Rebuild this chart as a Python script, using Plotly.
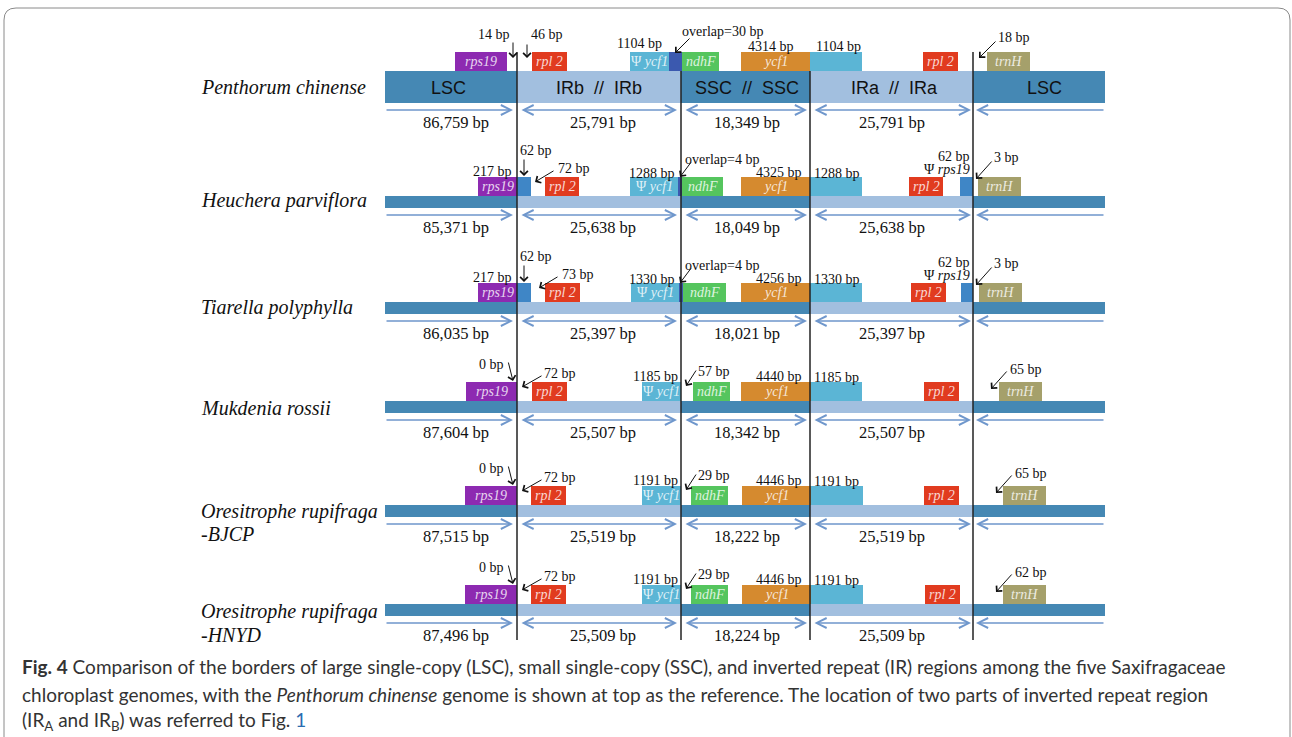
import plotly.graph_objects as go

# ---------------- data ----------------
species = ["Penthorum chinense", "Heuchera parviflora", "Tiarella polyphylla",
           "Mukdenia rossii", "Oresitrophe rupifraga|-BJCP", "Oresitrophe rupifraga|-HNYD"]
lsc_bp = [86759, 85371, 86035, 87604, 87515, 87496]
irb_bp = [25791, 25638, 25397, 25507, 25519, 25509]
ssc_bp = [18349, 18049, 18021, 18342, 18222, 18224]
ira_bp = [25791, 25638, 25397, 25507, 25519, 25509]
rps19_bp = [14, 217, 217, 0, 0, 0]            # rps19 distance / part in LSC at JLB
rps19_ir_bp = [None, 62, 62, None, None, None]  # rps19 part in IRb (and Ψrps19 in IRa)
rpl2_bp = [46, 72, 73, 72, 72, 72]
ycf1_ir_bp = [1104, 1288, 1330, 1185, 1191, 1191]
ndhF_bp = [-30, -4, -4, 57, 29, 29]            # negative = overlap with Ψycf1
ycf1_ssc_bp = [4314, 4325, 4256, 4440, 4446, 4446]
trnH_bp = [18, 3, 3, 65, 65, 62]
region_names = ["LSC", "IRb&nbsp;&nbsp;//&nbsp;&nbsp;IRb", "SSC&nbsp;&nbsp;//&nbsp;&nbsp;SSC",
                "IRa&nbsp;&nbsp;//&nbsp;&nbsp;IRa", "LSC"]

caption = [
    "<b>Fig. 4</b> Comparison of the borders of large single-copy (LSC), small single-copy (SSC), "
    "and inverted repeat (IR) regions among the five Saxifragaceae",
    "chloroplast genomes, with the <i>Penthorum chinense</i> genome is shown at top as the reference. "
    "The location of two parts of inverted repeat region",
    "(IR<sub>A</sub> and IR<sub>B</sub>) was referred to Fig. <span style='color:#2B6CB0'>1</span>",
]

# ---------------- layout (positions / styles) ----------------
W, H = 1292, 737
XB = [385, 517, 681, 810, 973, 1105]          # bar start, JLB, JSB, JSA, JLA, bar end
bar_top = [71, 196, 302, 401, 505, 604]
bar_h = [32, 12, 12, 12, 12, 12]
GENE_H = 19
name_y = [[87], [200], [307], [408], [511, 534], [611, 635]]

SERIF = "Liberation Serif, Times New Roman, serif"
SANS = "Liberation Sans, Arial, sans-serif"
DARK = "#4588B4"
LIGHT = "#A2BFDF"
ARROW_C = "#6F97CC"

gene_style = {
    "rps19": ("#8D2AB1", "<i>rps19</i>"),
    "rps19x": ("#3F86C6", ""),
    "rpl2": ("#E13B1F", "<i>rpl 2</i>"),
    "ycf1p": ("#5BB5D5", "Ψ <i>ycf1</i>"),
    "ovl": ("#3B59AF", ""),
    "ndhF": ("#55C55E", "<i>ndhF</i>"),
    "ycf1": ("#D58A2F", "<i>ycf1</i>"),
    "ycf1b": ("#5BB5D5", ""),
    "trnH": ("#A5A06B", "<i>trnH</i>"),
}

genes = [
    [("rps19", 455, 507), ("rpl2", 532, 567), ("ycf1p", 630, 669), ("ovl", 669, 682),
     ("ndhF", 682, 719), ("ycf1", 741, 810), ("ycf1b", 810, 862), ("rpl2", 923, 958),
     ("trnH", 987, 1030)],
    [("rps19", 478, 517), ("rps19x", 517, 531), ("rpl2", 545, 579), ("ycf1p", 630, 678),
     ("ovl", 678, 682), ("ndhF", 682, 723), ("ycf1", 741, 810), ("ycf1b", 810, 862),
     ("rpl2", 909, 943), ("rps19x", 960, 973), ("trnH", 978, 1021)],
    [("rps19", 478, 517), ("rps19x", 517, 531), ("rpl2", 545, 580), ("ycf1p", 631, 679),
     ("ovl", 679, 683), ("ndhF", 683, 726), ("ycf1", 741, 810), ("ycf1b", 810, 862),
     ("rpl2", 911, 946), ("rps19x", 961, 973), ("trnH", 979, 1022)],
    [("rps19", 466, 517), ("rpl2", 532, 567), ("ycf1p", 642, 681), ("ndhF", 693, 730),
     ("ycf1", 741, 811), ("ycf1b", 811, 862), ("rpl2", 924, 959), ("trnH", 999, 1042)],
    [("rps19", 465, 517), ("rpl2", 531, 566), ("ycf1p", 642, 681), ("ndhF", 691, 728),
     ("ycf1", 742, 811), ("ycf1b", 811, 863), ("rpl2", 924, 959), ("trnH", 1003, 1046)],
    [("rps19", 465, 517), ("rpl2", 531, 566), ("ycf1p", 642, 681), ("ndhF", 691, 728),
     ("ycf1", 742, 811), ("ycf1b", 811, 863), ("rpl2", 925, 960), ("trnH", 1003, 1046)],
]

len_x = [456, 603, 747, 892]


def bp(v):
    return f"{v} bp"


def ndhf_text(v):
    return f"overlap={-v} bp" if v < 0 else f"{v} bp"


shapes = []
ann = []


def rect(x0, x1, y0, y1, color):
    shapes.append(dict(type="rect", xref="x", yref="y", x0=x0, x1=x1, y0=y0, y1=y1,
                       fillcolor=color, line=dict(width=0), layer="above"))


def txt(x, y, s, anchor="center", size=14, family=SERIF, color="#111"):
    ann.append(dict(x=x, y=y, xref="x", yref="y", text=s, showarrow=False,
                    xanchor=anchor, yanchor="middle",
                    font=dict(family=family, size=size, color=color)))


def arrow(x0, y0, x1, y1, color="#111", head=4, size=1.5, width=1.0, side="end"):
    ann.append(dict(x=x1, y=y1, ax=x0, ay=y0, xref="x", yref="y", axref="x", ayref="y",
                    text="", showarrow=True, arrowhead=head, arrowsize=size,
                    arrowwidth=width, arrowcolor=color, arrowside=side,
                    startarrowhead=head, startarrowsize=size, standoff=0, startstandoff=0))


# ---- bars, genes, length arrows ----
for r in range(6):
    T, h = bar_top[r], bar_h[r]
    cols = [DARK, LIGHT, DARK, LIGHT, DARK]
    for i in range(5):
        rect(XB[i], XB[i + 1], T, T + h, cols[i])
    for key, x0, x1 in genes[r]:
        col, lab = gene_style[key]
        rect(x0, x1, T - GENE_H, T, col)
        if lab:
            txt((x0 + x1) / 2, T - GENE_H / 2, lab, size=14, color="rgba(255,255,255,0.82)")
    ya = T + h + 7
    arrow(XB[0], ya, XB[1] - 4, ya, color=ARROW_C, head=5, size=1.4, width=1.4)
    arrow(XB[1] + 3, ya, XB[2] - 4, ya, color=ARROW_C, head=5, size=1.4, width=1.4, side="end+start")
    arrow(XB[2] + 3, ya, XB[3] - 3, ya, color=ARROW_C, head=5, size=1.4, width=1.4, side="end+start")
    arrow(XB[3] + 3, ya, XB[4] - 2, ya, color=ARROW_C, head=5, size=1.4, width=1.4, side="end+start")
    arrow(XB[5], ya, XB[4] + 3, ya, color=ARROW_C, head=5, size=1.4, width=1.4)
    yt = T + h + 19
    for v, x in zip([lsc_bp[r], irb_bp[r], ssc_bp[r], ira_bp[r]], len_x):
        txt(x, yt, f"{v:,} bp", size=16.5)
    # species name
    parts = species[r].split("|")
    for p, yy in zip(parts, name_y[r]):
        txt(199, yy, f"<i>{p}</i>", anchor="left", size=20)

# region names in first bar
for s, x in zip(region_names, [448, 599, 747, 894, 1044]):
    txt(x, 88, s, size=18, family=SANS, color="#111")

# ---- border labels ----
# row 0
txt(512, 34, bp(rps19_bp[0]), "right")
txt(529, 34, bp(rpl2_bp[0]), "left")
txt(639, 43, bp(ycf1_ir_bp[0]))
txt(680, 31, ndhf_text(ndhF_bp[0]), "left")
txt(771, 46, bp(ycf1_ssc_bp[0]))
txt(838, 46, bp(ycf1_ir_bp[0]))
txt(996, 37, bp(trnH_bp[0]), "left")
arrow(513, 41, 513, 58)
arrow(527, 43, 527, 58)
arrow(691, 37, 675, 53)
arrow(997, 40, 979, 58)

# rows 1-2
for r, rplx in [(1, 556), (2, 560)]:
    T = bar_top[r]
    txt(514, T - 25, bp(rps19_bp[r]), "right")
    txt(518, T - 46, bp(rps19_ir_bp[r]), "left")
    txt(rplx, T - 28, bp(rpl2_bp[r]), "left")
    txt(652, T - 23, bp(ycf1_ir_bp[r]))
    txt(683, T - 37, ndhf_text(ndhF_bp[r]), "left")
    txt(779, T - 24, bp(ycf1_ssc_bp[r]))
    txt(837, T - 23, bp(ycf1_ir_bp[r]))
    txt(972, T - 40, bp(rps19_ir_bp[r]), "right")
    txt(972, T - 27, "Ψ <i>rps19</i>", "right")
    txt(992, T - 39, bp(trnH_bp[r]), "left")
    arrow(524, T - 38, 524, T - 20)
    arrow(rplx - 1, T - 26, rplx - 21, T - 14)
    arrow(692, T - 35, 680, T - 19)
    arrow(993, T - 36, 976, T - 17)

# rows 3-5
for r, tx in [(3, 1008), (4, 1013), (5, 1013)]:
    T = bar_top[r]
    txt(506, T - 37, bp(rps19_bp[r]), "right")
    arrow(508, T - 40, 513, T - 20)
    txt(542, T - 28, bp(rpl2_bp[r]), "left")
    arrow(543, T - 26, 522, T - 14)
    txt(655, T - 25, bp(ycf1_ir_bp[r]))
    txt(696, T - 30, ndhf_text(ndhF_bp[r]), "left")
    arrow(697, T - 32, 686, T - 15)
    txt(779, T - 24.5, bp(ycf1_ssc_bp[r]))
    txt(836.5, T - 24, bp(ycf1_ir_bp[r]))
    txt(tx, T - 32, bp(trnH_bp[r]), "left")
    arrow(tx, T - 31, tx - 17, T - 12)

# ---- junction lines ----
for x, y0 in zip(XB[1:5], [52, 71, 71, 52]):
    shapes.append(dict(type="line", xref="x", yref="y", x0=x, x1=x, y0=y0, y1=640,
                       line=dict(color="#222", width=1.5), layer="above"))

# ---- border box ----
shapes.append(dict(type="path", xref="x", yref="y",
                   path="M 4,737 L 4,20 Q 4,8 16,8 L 1278,8 Q 1290,8 1290,20 L 1290,737",
                   line=dict(color="#8a8a8a", width=1), layer="below"))

# ---- caption ----
for line, yy in zip(caption, [666, 694, 721]):
    ann.append(dict(x=20, y=yy, xref="x", yref="y", text=line, showarrow=False,
                    xanchor="left", yanchor="middle",
                    font=dict(family="Lato, Roboto, sans-serif", size=19, color="#333")))

fig = go.Figure()
fig.update_layout(
    width=W, height=H, margin=dict(l=0, r=0, t=0, b=0),
    paper_bgcolor="white", plot_bgcolor="white",
    xaxis=dict(range=[0, W], visible=False, fixedrange=True),
    yaxis=dict(range=[H, 0], visible=False, fixedrange=True),
    shapes=shapes, annotations=ann, showlegend=False,
)
fig.write_html("out.html", config={"displayModeBar": False},
               post_script="document.body.style.margin='0';document.body.style.overflow='hidden';")
